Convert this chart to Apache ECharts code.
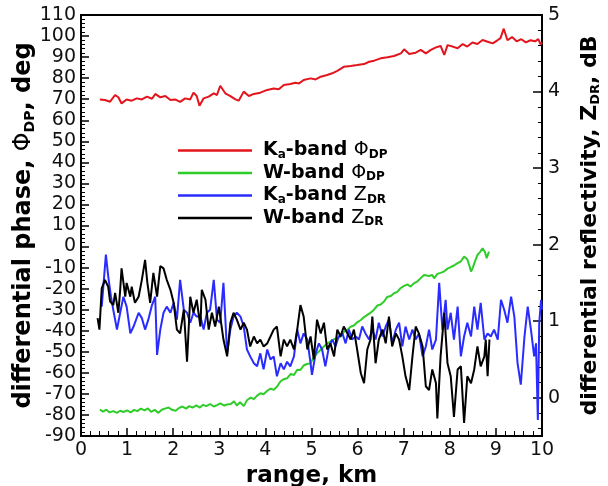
<!DOCTYPE html>
<html><head><meta charset="utf-8">
<script src="https://cdn.jsdelivr.net/npm/echarts@6/dist/echarts.min.js"></script>
<style>html,body{margin:0;padding:0;background:#fff}#c{width:608px;height:486px}</style>
</head><body><div id="c"></div>
<script>
// range (km) and Ka-band differential phase (deg)
const kaPhiX = [0.41,0.52,0.63,0.74,0.81,0.88,0.99,1.10,1.21,1.32,1.43,1.54,1.61,1.72,1.83,1.94,2.04,2.15,2.26,2.37,2.44,2.51,2.57,2.66,2.77,2.88,2.95,3.02,3.13,3.24,3.35,3.42,3.53,3.64,3.75,3.89,4.04,4.18,4.29,4.40,4.54,4.65,4.73,4.83,4.98,5.09,5.20,5.34,5.45,5.56,5.70,5.85,5.99,6.14,6.25,6.36,6.50,6.65,6.79,6.94,7.01,7.12,7.26,7.37,7.48,7.59,7.70,7.80,7.88,7.95,8.06,8.17,8.28,8.38,8.49,8.60,8.71,8.82,8.93,9.04,9.10,9.17,9.25,9.35,9.45,9.55,9.65,9.75,9.85,9.92,9.97,10.0];
const kaPhiY = [69.9,69.6,68.8,72.0,70.9,68.0,69.9,69.3,70.4,69.9,71.2,70.2,72.5,70.9,71.5,69.6,69.9,68.7,70.4,69.9,73.1,71.5,66.9,70.4,71.2,72.8,72.0,76.4,72.8,71.5,69.9,69.3,73.6,71.5,72.5,73.1,74.4,75.1,74.7,76.7,77.2,77.8,77.5,79.1,79.9,79.4,80.7,81.5,82.3,83.5,85.4,85.8,86.2,86.7,87.8,88.3,89.4,89.9,90.5,91.8,93.7,91.5,92.1,93.4,91.8,93.4,94.6,95.3,91.0,95.7,95.0,94.2,96.2,95.0,96.9,96.2,98.1,97.3,96.5,98.1,99.0,103.5,98.0,99.5,97.5,98.5,97.0,98.0,97.5,98.5,96.0,97.0];

// W-band differential phase (deg)
const wPhiX = [0.41,0.48,0.55,0.62,0.70,0.78,0.85,0.92,1.00,1.08,1.15,1.22,1.30,1.38,1.45,1.52,1.60,1.68,1.75,1.82,1.90,1.97,2.05,2.12,2.20,2.28,2.35,2.42,2.50,2.58,2.65,2.72,2.80,2.88,2.95,3.02,3.10,3.17,3.25,3.32,3.38,3.45,3.53,3.60,3.68,3.75,3.82,3.89,3.96,4.04,4.11,4.18,4.25,4.33,4.40,4.47,4.55,4.62,4.69,4.76,4.83,4.90,4.98,5.05,5.12,5.20,5.27,5.34,5.41,5.49,5.56,5.63,5.70,5.78,5.85,5.92,5.99,6.07,6.14,6.21,6.28,6.35,6.43,6.50,6.57,6.64,6.72,6.79,6.86,6.93,7.00,7.08,7.15,7.22,7.30,7.37,7.44,7.47,7.55,7.62,7.66,7.73,7.80,7.87,7.95,8.02,8.09,8.16,8.24,8.31,8.38,8.43,8.46,8.50,8.53,8.60,8.66,8.71,8.76,8.80,8.82,8.85];
const wPhiY = [-77.5,-78.4,-77.5,-78.8,-78.2,-79.0,-78.0,-78.6,-77.8,-78.8,-77.6,-78.2,-77.0,-77.8,-76.9,-78.5,-77.6,-79.0,-77.5,-77.0,-76.5,-77.5,-78.0,-76.8,-76.0,-77.0,-75.8,-76.5,-75.5,-76.5,-75.2,-75.8,-74.8,-76.0,-75.3,-74.5,-75.5,-75.0,-74.8,-73.5,-75.5,-74.0,-75.8,-73.0,-71.8,-72.5,-70.8,-69.7,-70.2,-68.5,-67.5,-68.0,-66.6,-64.0,-63.0,-62.6,-60.5,-61.0,-58.5,-58.6,-56.5,-55.8,-55.5,-52.5,-50.7,-49.0,-47.5,-46.0,-45.2,-44.0,-43.5,-42.8,-40.5,-39.5,-38.1,-37.5,-36.0,-34.9,-33.5,-32.5,-31.5,-30.1,-28.0,-27.5,-26.2,-24.0,-23.5,-22.2,-21.5,-19.8,-18.8,-18.0,-19.0,-17.5,-16.5,-15.0,-13.5,-12.7,-14.0,-13.5,-15.1,-13.0,-12.5,-11.9,-10.5,-9.8,-9.0,-8.0,-7.0,-4.8,-6.0,-9.5,-11.9,-10.0,-8.0,-4.0,-2.5,-0.8,-2.5,-5.5,-6.4,-2.4];

// Ka-band differential reflectivity (dB)
const kaZdrX = [0.45,0.52,0.54,0.59,0.65,0.70,0.78,0.85,0.92,0.99,1.07,1.14,1.25,1.32,1.39,1.46,1.54,1.61,1.65,1.72,1.79,1.86,1.94,2.01,2.08,2.15,2.23,2.30,2.37,2.44,2.51,2.59,2.66,2.73,2.80,2.88,2.95,3.02,3.09,3.17,3.24,3.31,3.38,3.46,3.53,3.60,3.67,3.75,3.82,3.89,3.96,4.04,4.11,4.18,4.25,4.33,4.40,4.47,4.54,4.62,4.69,4.76,4.83,4.91,4.98,5.01,5.09,5.16,5.23,5.30,5.38,5.45,5.52,5.59,5.67,5.74,5.81,5.88,5.96,6.03,6.10,6.17,6.25,6.32,6.39,6.46,6.54,6.61,6.68,6.75,6.83,6.90,6.97,7.04,7.12,7.19,7.26,7.33,7.41,7.48,7.55,7.62,7.70,7.77,7.84,7.91,7.95,8.02,8.09,8.17,8.24,8.31,8.38,8.46,8.53,8.60,8.67,8.75,8.82,8.89,8.96,9.04,9.11,9.18,9.25,9.33,9.40,9.47,9.54,9.62,9.69,9.76,9.83,9.87,9.91,9.94,9.98,10.0];
const kaZdrY = [1.19,1.72,1.87,1.59,1.32,1.15,0.89,1.11,1.32,1.19,0.84,0.93,1.11,1.04,0.89,1.02,1.21,1.32,0.56,0.89,1.11,1.19,1.11,1.24,1.02,1.54,1.15,1.11,0.98,1.11,1.06,1.06,0.89,1.11,1.15,1.54,1.02,0.98,1.50,0.58,0.89,1.06,1.11,1.06,0.93,0.63,0.54,0.45,0.41,0.58,0.37,0.63,0.50,0.54,0.28,0.45,0.37,0.47,0.41,0.54,0.89,0.71,0.84,0.76,0.45,0.30,0.58,0.71,0.63,0.41,0.67,0.76,0.67,0.80,0.84,0.71,0.89,0.76,0.80,0.76,0.93,0.84,0.76,0.89,0.76,0.98,0.80,0.93,1.02,0.71,0.89,0.98,0.67,0.93,0.76,0.89,0.76,0.84,0.54,0.67,0.89,0.63,0.76,1.50,0.89,1.28,0.89,1.11,0.76,1.19,0.54,0.80,0.98,0.80,1.19,0.89,1.24,0.76,0.84,0.80,0.89,0.76,1.28,1.15,0.98,1.32,1.06,0.45,0.17,0.80,1.19,0.89,0.54,0.71,-0.29,0.98,1.28,1.15];

// W-band differential reflectivity (dB)
const wZdrX = [0.36,0.40,0.45,0.52,0.59,0.63,0.70,0.74,0.81,0.85,0.88,0.96,0.99,1.07,1.10,1.17,1.25,1.32,1.39,1.44,1.50,1.57,1.65,1.72,1.79,1.86,1.94,2.01,2.08,2.15,2.23,2.30,2.37,2.44,2.51,2.59,2.62,2.70,2.77,2.84,2.91,2.99,3.09,3.17,3.24,3.31,3.38,3.46,3.53,3.60,3.67,3.75,3.82,3.89,3.96,4.04,4.11,4.18,4.25,4.33,4.40,4.47,4.54,4.62,4.69,4.76,4.83,4.91,4.98,5.05,5.12,5.20,5.27,5.34,5.41,5.49,5.56,5.63,5.70,5.78,5.85,5.92,5.99,6.07,6.14,6.21,6.28,6.32,6.39,6.46,6.54,6.61,6.68,6.75,6.83,6.90,6.97,7.04,7.12,7.19,7.26,7.33,7.41,7.48,7.55,7.62,7.70,7.73,7.80,7.88,7.95,8.02,8.09,8.17,8.24,8.31,8.38,8.46,8.53,8.60,8.67,8.75,8.78,8.82,8.86];
const wZdrY = [1.04,0.89,1.43,1.54,1.45,1.26,1.21,1.37,1.11,1.41,1.69,1.32,1.50,1.32,1.45,1.24,1.32,1.54,1.80,1.50,1.24,1.63,1.32,1.72,1.69,1.54,1.41,1.24,0.89,0.84,1.15,0.47,1.32,1.11,1.28,0.93,1.41,1.28,0.89,1.11,0.93,1.19,0.76,0.54,0.98,1.11,1.02,0.89,0.98,0.89,0.67,0.80,0.71,0.76,0.67,0.71,0.80,0.89,0.93,0.54,0.76,0.67,0.76,0.63,0.89,1.21,1.06,0.63,0.80,0.50,1.02,0.84,0.98,0.63,0.71,0.54,0.89,0.80,0.93,0.84,0.76,0.89,0.63,0.32,0.19,0.63,0.76,1.06,0.45,0.76,0.89,0.71,1.06,0.67,0.84,0.76,0.54,0.28,0.10,0.54,0.93,0.84,0.67,0.15,0.10,0.37,0.19,-0.27,0.54,1.11,0.45,0.28,-0.25,0.37,0.41,-0.33,0.28,0.19,0.37,0.67,0.41,0.54,0.76,0.28,0.76];

// axis tick values
const phaseTicks = {min: -90, max: 110, step: 10};
const rangeTicks = {min: 0, max: 10, step: 1};
const zdrLabels = [0, 1, 2, 3, 4, 5];
const zdrMinor = [-0.4,-0.2,0.2,0.4,0.6,0.8,1.2,1.4,1.6,1.8,2.2,2.4,2.6,2.8,3.2,3.4,3.6,3.8,4.2,4.4,4.6,4.8];

const seriesNames = ['Ka-band PhiDP','W-band PhiDP','Ka-band ZDR','W-band ZDR'];
const legendText = {
  'Ka-band PhiDP': '{b|K}{s|a}{b|-band }{g|Φ}{s|DP}',
  'W-band PhiDP': '{b|W-band }{g|Φ}{s|DP}',
  'Ka-band ZDR': '{b|K}{s|a}{b|-band }{g|Z}{s|DR}',
  'W-band ZDR': '{b|W-band }{g|Z}{s|DR}'
};
const colors = ['#e3141b','#2fcc2a','#2a2cff','#000000'];

const F = 'DejaVu Sans';
const pairs = (xs, ys) => xs.map((x, i) => [x, ys[i]]);

const chart = echarts.init(document.getElementById('c'), null, {renderer: 'canvas'});
const lineSeries = (name, xs, ys, yi, col) => ({
  name, type: 'line', yAxisIndex: yi, data: pairs(xs, ys), showSymbol: false, symbol: 'none',
  lineStyle: {color: col, width: 2}, itemStyle: {color: col}, animation: false, z: 3
});

chart.setOption({
  animation: false,
  grid: {left: 81, right: 66, top: 15, bottom: 50, outerBoundsMode: 'none', containLabel: false,
    show: true, borderColor: '#000', borderWidth: 2, backgroundColor: 'transparent'},
  legend: {
    data: seriesNames, orient: 'vertical', left: 178, top: 141, padding: 0,
    icon: 'rect', itemWidth: 74, itemHeight: 2.5, itemGap: 3,
    formatter: n => legendText[n],
    textStyle: {
      padding: [0,0,0,6],
      rich: {
        b: {fontFamily: F, fontWeight: 'bold', fontSize: 19, color: '#000', lineHeight: 20},
        g: {fontFamily: F, fontWeight: 'normal', fontSize: 19, color: '#000', lineHeight: 20},
        s: {fontFamily: F, fontWeight: 'bold', fontSize: 12, color: '#000', lineHeight: 10, verticalAlign: 'bottom'}
      }
    }
  },
  xAxis: {
    type: 'value', min: rangeTicks.min, max: rangeTicks.max, interval: rangeTicks.step,
    name: 'range, km', nameLocation: 'middle', nameGap: 28,
    nameTextStyle: {fontFamily: F, fontWeight: 'bold', fontSize: 23, color: '#000'},
    axisLine: {onZero: false, lineStyle: {color: '#000', width: 2}},
    axisTick: {inside: true, length: 8, lineStyle: {color: '#000', width: 1.5}},
    minorTick: {show: true, splitNumber: 5, length: 5, lineStyle: {color: '#000', width: 1}},
    axisLabel: {fontFamily: F, fontSize: 19, color: '#111', margin: 5},
    splitLine: {show: false}
  },
  yAxis: [
    {
      type: 'value', position: 'left', min: phaseTicks.min, max: phaseTicks.max, interval: phaseTicks.step,
      name: 'differential phase, {g|Φ}{s|DP}, deg', nameLocation: 'middle', nameGap: 44, nameRotate: 90,
      nameMoveOverlap: false,
      nameTextStyle: {fontFamily: F, fontWeight: 'bold', fontSize: 24, color: '#000',
        rich: {
          g: {fontFamily: F, fontWeight: 'normal', fontSize: 24, color: '#000', lineHeight: 26},
          s: {fontFamily: F, fontWeight: 'bold', fontSize: 14, color: '#000', lineHeight: 12, verticalAlign: 'bottom'}
        }},
      axisLine: {onZero: false, lineStyle: {color: '#000', width: 2}},
      axisTick: {inside: true, length: 8, lineStyle: {color: '#000', width: 1.5}},
      minorTick: {show: true, splitNumber: 5, length: 4, lineStyle: {color: '#000', width: 1}},
      axisLabel: {fontFamily: F, fontSize: 19, color: '#111', margin: 5},
      splitLine: {show: false}
    },
    {
      type: 'value', position: 'right', min: -0.5, max: 5,
      name: 'differential reflectivity, {g|Z}{s|DR}, dB', nameLocation: 'middle', nameGap: 36, nameRotate: 90,
      nameTextStyle: {fontFamily: F, fontWeight: 'bold', fontSize: 22, color: '#000',
        rich: {
          g: {fontFamily: F, fontWeight: 'bold', fontSize: 22, color: '#000', lineHeight: 24},
          s: {fontFamily: F, fontWeight: 'bold', fontSize: 13, color: '#000', lineHeight: 11, verticalAlign: 'bottom'}
        }},
      axisLine: {onZero: false, lineStyle: {color: '#000', width: 2}},
      axisTick: {inside: true, length: 9, customValues: zdrLabels, lineStyle: {color: '#000', width: 1.5}},
      axisLabel: {fontFamily: F, fontSize: 19, color: '#111', margin: 6, customValues: zdrLabels},
      splitLine: {show: false}
    },
    {
      type: 'value', position: 'right', min: -0.5, max: 5,
      axisLine: {show: false, onZero: false},
      axisTick: {inside: true, length: 4, customValues: zdrMinor, lineStyle: {color: '#000', width: 1}},
      axisLabel: {show: false},
      splitLine: {show: false}
    }
  ],
  series: [
    lineSeries(seriesNames[0], kaPhiX, kaPhiY, 0, colors[0]),
    lineSeries(seriesNames[1], wPhiX, wPhiY, 0, colors[1]),
    lineSeries(seriesNames[2], kaZdrX, kaZdrY, 1, colors[2]),
    lineSeries(seriesNames[3], wZdrX, wZdrY, 1, colors[3])
  ]
});
</script></body></html>
